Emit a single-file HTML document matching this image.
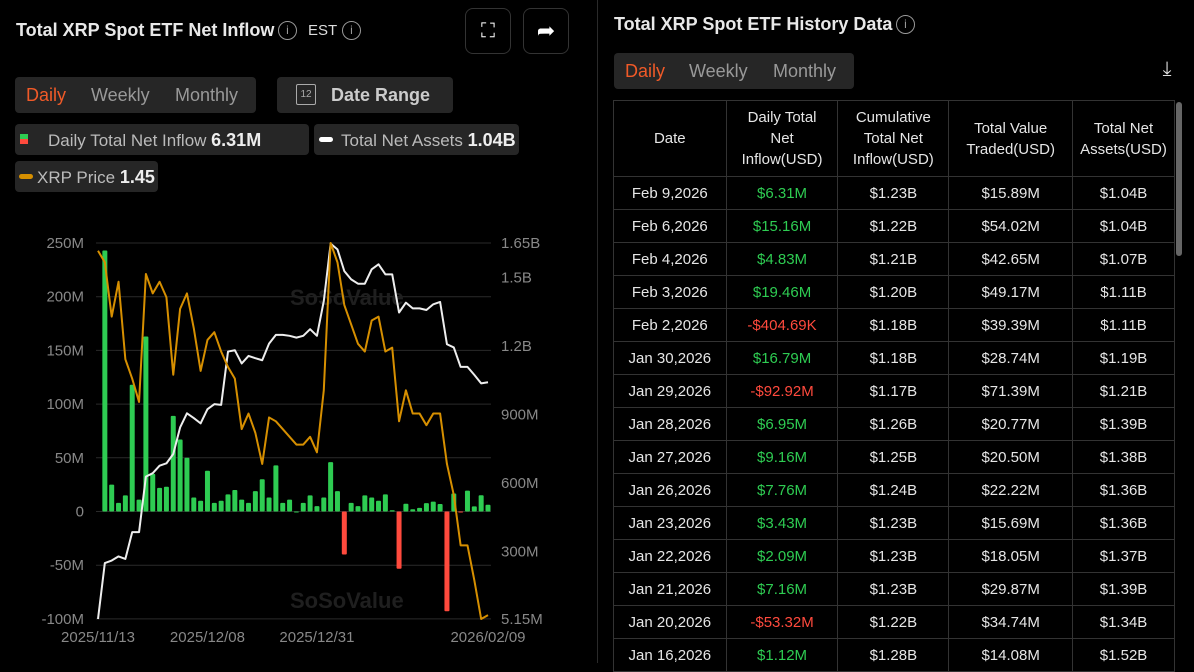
<!DOCTYPE html>
<html><head><meta charset="utf-8">
<style>
*{box-sizing:border-box;margin:0;padding:0}
body{width:1194px;height:663px;background:#000;color:#ddd;font-family:"Liberation Sans",sans-serif;position:relative;overflow:hidden}
.abs{position:absolute}
.pill{position:absolute;background:#262626;border-radius:4px}
.t{position:absolute;white-space:nowrap}
table{border-collapse:collapse;position:absolute;left:613px;top:100px;width:562px;font-size:15px;color:#e6e6e6}
td,th{border:1px solid #333;text-align:center;font-weight:normal;height:33px;padding:0}
th{height:76px;line-height:21px}
.g{color:#2ecc52}.r{color:#ff4a3d}
</style></head><body>
<div class="t" style="left:16px;top:20px;font-size:18px;font-weight:bold;color:#e8e8e8">Total XRP Spot ETF Net Inflow</div>
<div class="t" style="left:278px;top:21px;width:19px;height:19px;border:1.5px solid #999;border-radius:50%;font-size:12px;color:#999;text-align:center;line-height:16px">i</div>
<div class="t" style="left:308px;top:22px;font-size:15px;color:#ddd">EST</div>
<div class="t" style="left:342px;top:21px;width:19px;height:19px;border:1.5px solid #999;border-radius:50%;font-size:12px;color:#999;text-align:center;line-height:16px">i</div>
<div class="abs" style="left:465px;top:8px;width:46px;height:46px;border:1px solid #333;border-radius:8px;color:#fff;font-size:20px;text-align:center;line-height:44px">⛶</div>
<div class="abs" style="left:523px;top:8px;width:46px;height:46px;border:1px solid #333;border-radius:8px;color:#fff;font-size:22px;text-align:center;line-height:44px">➦</div>

<div class="pill" style="left:15px;top:77px;width:241px;height:36px"></div>
<div class="t" style="left:26px;top:85px;font-size:18px;color:#f05a28">Daily</div>
<div class="t" style="left:91px;top:85px;font-size:18px;color:#999">Weekly</div>
<div class="t" style="left:175px;top:85px;font-size:18px;color:#999">Monthly</div>
<div class="pill" style="left:277px;top:77px;width:176px;height:36px"></div>
<div class="t" style="left:296px;top:84px;width:20px;height:21px;border:1.5px solid #aaa;border-radius:2px;font-size:10px;color:#aaa;text-align:center;line-height:20px">12</div>
<div class="t" style="left:331px;top:85px;font-size:18px;font-weight:bold;color:#ccc">Date Range</div>

<div class="pill" style="left:15px;top:124px;width:294px;height:31px"></div>
<div class="abs" style="left:20px;top:134px;width:8px;height:5px;background:#2ecc52"></div>
<div class="abs" style="left:20px;top:139px;width:8px;height:5px;background:#ff4a3d"></div>
<div class="t" style="left:48px;top:130px;font-size:17px;color:#bbb">Daily Total Net Inflow <b style="color:#eee;font-size:18px">6.31M</b></div>
<div class="pill" style="left:314px;top:124px;width:205px;height:31px"></div>
<div class="abs" style="left:319px;top:137px;width:14px;height:5px;border-radius:3px;background:#fff"></div>
<div class="t" style="left:341px;top:130px;font-size:17px;color:#bbb">Total Net Assets <b style="color:#eee;font-size:18px">1.04B</b></div>
<div class="pill" style="left:15px;top:161px;width:143px;height:31px"></div>
<div class="abs" style="left:19px;top:174px;width:14px;height:5px;border-radius:3px;background:#d68f00"></div>
<div class="t" style="left:37px;top:167px;font-size:17px;color:#bbb">XRP Price <b style="color:#eee;font-size:18px">1.45</b></div>

<svg id="chart" class="abs" style="left:0;top:0" width="600" height="663"></svg>

<div class="abs" style="left:597px;top:0;width:1px;height:663px;background:#2a2a2a"></div>

<div class="t" style="left:614px;top:14px;font-size:18px;font-weight:bold;color:#e8e8e8">Total XRP Spot ETF History Data</div>
<div class="t" style="left:896px;top:15px;width:19px;height:19px;border:1.5px solid #999;border-radius:50%;font-size:12px;color:#999;text-align:center;line-height:16px">i</div>
<div class="pill" style="left:614px;top:53px;width:240px;height:36px"></div>
<div class="t" style="left:625px;top:61px;font-size:18px;color:#f05a28">Daily</div>
<div class="t" style="left:689px;top:61px;font-size:18px;color:#999">Weekly</div>
<div class="t" style="left:773px;top:61px;font-size:18px;color:#999">Monthly</div>
<div class="t" style="left:1156px;top:58px;width:22px;height:24px;font-size:20px;color:#ddd;text-align:center">⤓</div>

<table>
<colgroup><col style="width:113px"><col style="width:112px"><col style="width:111px"><col style="width:124px"><col style="width:102px"></colgroup>
<tr><th>Date</th><th>Daily Total<br>Net<br>Inflow(USD)</th><th>Cumulative<br>Total Net<br>Inflow(USD)</th><th>Total Value<br>Traded(USD)</th><th>Total Net<br>Assets(USD)</th></tr>
<tr><td>Feb 9,2026</td><td class="g">$6.31M</td><td>$1.23B</td><td>$15.89M</td><td>$1.04B</td></tr>
<tr><td>Feb 6,2026</td><td class="g">$15.16M</td><td>$1.22B</td><td>$54.02M</td><td>$1.04B</td></tr>
<tr><td>Feb 4,2026</td><td class="g">$4.83M</td><td>$1.21B</td><td>$42.65M</td><td>$1.07B</td></tr>
<tr><td>Feb 3,2026</td><td class="g">$19.46M</td><td>$1.20B</td><td>$49.17M</td><td>$1.11B</td></tr>
<tr><td>Feb 2,2026</td><td class="r">-$404.69K</td><td>$1.18B</td><td>$39.39M</td><td>$1.11B</td></tr>
<tr><td>Jan 30,2026</td><td class="g">$16.79M</td><td>$1.18B</td><td>$28.74M</td><td>$1.19B</td></tr>
<tr><td>Jan 29,2026</td><td class="r">-$92.92M</td><td>$1.17B</td><td>$71.39M</td><td>$1.21B</td></tr>
<tr><td>Jan 28,2026</td><td class="g">$6.95M</td><td>$1.26B</td><td>$20.77M</td><td>$1.39B</td></tr>
<tr><td>Jan 27,2026</td><td class="g">$9.16M</td><td>$1.25B</td><td>$20.50M</td><td>$1.38B</td></tr>
<tr><td>Jan 26,2026</td><td class="g">$7.76M</td><td>$1.24B</td><td>$22.22M</td><td>$1.36B</td></tr>
<tr><td>Jan 23,2026</td><td class="g">$3.43M</td><td>$1.23B</td><td>$15.69M</td><td>$1.36B</td></tr>
<tr><td>Jan 22,2026</td><td class="g">$2.09M</td><td>$1.23B</td><td>$18.05M</td><td>$1.37B</td></tr>
<tr><td>Jan 21,2026</td><td class="g">$7.16M</td><td>$1.23B</td><td>$29.87M</td><td>$1.39B</td></tr>
<tr><td>Jan 20,2026</td><td class="r">-$53.32M</td><td>$1.22B</td><td>$34.74M</td><td>$1.34B</td></tr>
<tr><td>Jan 16,2026</td><td class="g">$1.12M</td><td>$1.28B</td><td>$14.08M</td><td>$1.52B</td></tr>
</table>
<div class="abs" style="left:1176px;top:102px;width:6px;height:154px;background:#666;border-radius:3px"></div>

<script>
const inflowM=[null,243,25,8,15,118,11,163,35,22,23,89,67,50,13,10,38,8,10,16,20,11,8,19,30,13,43,8,11,0,8,15,5,13,46,19,-40,8,5,15,13,10,16,1.12,-53.32,7.16,2.09,3.43,7.76,9.16,6.95,-92.92,16.79,-0.40,19.46,4.83,15.16,6.31];
const assetsM=[5,250,261,279,268,385,385,628,643,676,686,727,843,905,884,861,923,945,942,1175,1181,1123,1156,1146,1137,1210,1248,1248,1244,1236,1244,1273,1244,1396,1647,1622,1527,1491,1472,1472,1535,1557,1513,1513,1346,1389,1364,1364,1357,1382,1392,1207,1193,1108,1108,1073,1036,1041];
const price=[2.39,2.36,2.22,2.31,2.11,2.06,2.00,2.33,2.28,2.31,2.27,2.07,2.24,2.28,2.19,2.08,2.16,2.18,2.13,2.09,2.06,1.93,1.97,1.92,1.84,1.96,1.95,1.93,1.91,1.89,1.89,1.91,1.87,2.03,2.41,2.36,2.25,2.20,2.15,2.13,2.21,2.22,2.13,2.14,1.95,2.03,1.97,1.97,1.94,1.97,1.97,1.84,1.76,1.63,1.63,1.54,1.44,1.45];
const leftTicks=[250,200,150,100,50,0,-50,-100];
const leftTickLabels=["250M","200M","150M","100M","50M","0","-50M","-100M"];
const rightTicks=[1650,1500,1200,900,600,300,5.15];
const rightTickLabels=["1.65B","1.5B","1.2B","900M","600M","300M","5.15M"];
const xLabelIdx=[0,16,32,57];
const xLabels=["2025/11/13","2025/12/08","2025/12/31","2026/02/09"];

const NS="http://www.w3.org/2000/svg";
const svg=document.getElementById('chart');
const X0=98,X1=488,n=price.length;
const x=i=>X0+(X1-X0)*i/(n-1);
const yL=v=>511.5-(v)*(511.5-243)/250;
const yR=v=>619-(v-5.15)*(619-243)/(1650-5.15);
const pMin=1.44,pMax=2.41;
const yP=v=>619-(v-pMin)*(619-243)/(pMax-pMin);
function mk(tag,attrs){const e=document.createElementNS(NS,tag);for(const k in attrs)e.setAttribute(k,attrs[k]);svg.appendChild(e);return e;}

leftTicks.forEach((v,i)=>{
  const g=mk('line',{x1:96,x2:491,y1:yL(v),y2:yL(v),stroke:'#2a2a2a','stroke-width':1});
  
  
  const t=mk('text',{x:84,y:yL(v)+5,'text-anchor':'end','font-size':15,fill:'#888','font-family':'Liberation Sans, sans-serif'});
  t.textContent=leftTickLabels[i];
  
  
});
rightTicks.forEach((v,i)=>{
  const t=mk('text',{x:501,y:yR(v)+5,'font-size':15,fill:'#888','font-family':'Liberation Sans, sans-serif'});
  t.textContent=rightTickLabels[i];
  
  
});
xLabelIdx.forEach((idx,i)=>{
  const t=mk('text',{x:x(idx),y:642,'text-anchor':'middle','font-size':15,fill:'#888','font-family':'Liberation Sans, sans-serif'});
  t.textContent=xLabels[i];
  
  
});
[[290,305],[290,608]].forEach(p=>{
  const w=mk('text',{x:p[0],y:p[1],'font-size':22,'font-weight':'bold',fill:'#1f1f1f','font-family':'Liberation Sans, sans-serif'});
  w.textContent='SoSoValue';
  
  
});
inflowM.forEach((v,i)=>{
  if(v===null)return;
  const y0=yL(0),y1=yL(v);
  const b=mk('rect',{x:x(i)-2.5,y:Math.min(y0,y1),width:5,height:Math.max(Math.abs(y1-y0),1),fill:v>=0?'#2ecc52':'#ff4a3d',rx:1});
  
  
});
const pa=mk('polyline',{points:assetsM.map((v,i)=>x(i)+','+yR(v)).join(' '),fill:'none',stroke:'#eeeeee','stroke-width':2,'stroke-linejoin':'round'});


const pp=mk('polyline',{points:price.map((v,i)=>x(i)+','+yP(v)).join(' '),fill:'none',stroke:'#d68f00','stroke-width':2,'stroke-linejoin':'round'});


</script>
</body></html>
